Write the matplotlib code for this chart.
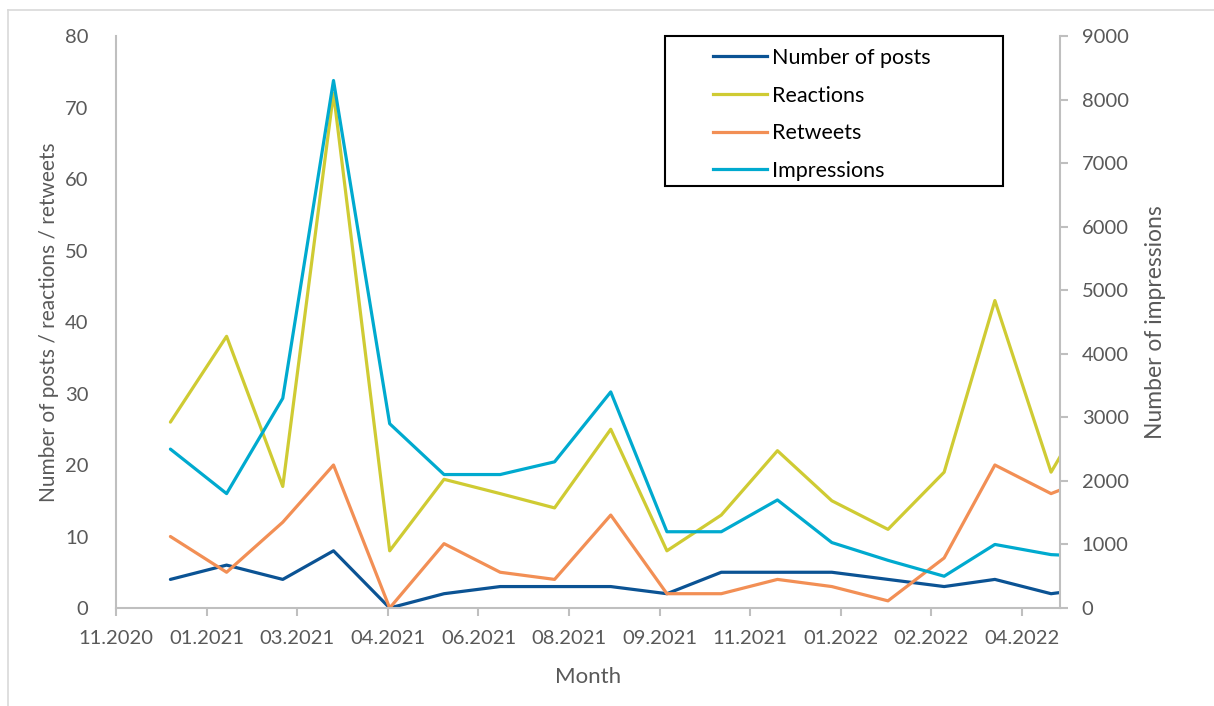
import datetime as dt
import matplotlib.pyplot as plt
from matplotlib.lines import Line2D
from matplotlib.patches import Rectangle

plt.rcParams['font.family'] = ['Lato', 'DejaVu Sans']

# monthly data, Dec 2020 .. May 2022
months = ['2020-12', '2021-01', '2021-02', '2021-03', '2021-04', '2021-05',
          '2021-06', '2021-07', '2021-08', '2021-09', '2021-10', '2021-11',
          '2021-12', '2022-01', '2022-02', '2022-03', '2022-04', '2022-05']
posts = [4, 6, 4, 8, 0, 2, 3, 3, 3, 2, 5, 5, 5, 4, 3, 4, 2, 3]
reactions = [26, 38, 17, 72, 8, 18, 16, 14, 25, 8, 13, 22, 15, 11, 19, 43, 19, 32]
retweets = [10, 5, 12, 20, 0, 9, 5, 4, 13, 2, 2, 4, 3, 1, 7, 20, 16, 19]
impressions = [2500, 1800, 3300, 8300, 2900, 2100, 2100, 2300, 3400, 1200, 1200,
               1700, 1030, 750, 500, 1000, 840, 800]

tick_labels = ['11.2020', '01.2021', '03.2021', '04.2021', '06.2021', '08.2021',
               '09.2021', '11.2021', '01.2022', '02.2022', '04.2022']

start = dt.date(2020, 11, 1)
x = [(dt.date(int(m[:4]), int(m[5:]), 1) - start).days for m in months]

c_posts = '#0B5394'
c_react = '#CFCB33'
c_rt = '#F28F55'
c_imp = '#00AACF'
grey = '#595959'
axis_grey = '#BFBFBF'

fig = plt.figure(figsize=(12.14, 7.06), dpi=100)
ax = fig.add_axes([0.0956, 0.1388, 0.7772, 0.8102])
ax2 = ax.twinx()

lw = 2.3
kw = dict(lw=lw, solid_joinstyle='round', solid_capstyle='round')
ax.plot(x, posts, color=c_posts, **kw)
ax.plot(x, reactions, color=c_react, **kw)
ax.plot(x, retweets, color=c_rt, **kw)
ax2.plot(x, impressions, color=c_imp, **kw)

ax.set_xlim(0, 520.7)
ax.set_ylim(0, 80)
ax2.set_ylim(0, 9000)
ax.set_yticks(range(0, 81, 10))
ax2.set_yticks(range(0, 9001, 1000))
ax.set_xticks([i * 50 for i in range(len(tick_labels))])
ax.set_xticklabels(tick_labels)

for a in (ax, ax2):
    a.spines['top'].set_visible(False)
    for s in ('left', 'right', 'bottom'):
        a.spines[s].set_color(axis_grey)
        a.spines[s].set_linewidth(1.5)
    a.tick_params(labelsize=14.5, colors=grey)

ax.tick_params(axis='y', length=0, pad=20)
ax.tick_params(axis='x', length=6, width=1.5, color=axis_grey, pad=10)
ax2.tick_params(axis='y', length=6, width=1.5, color=axis_grey, pad=10)
ax.spines['right'].set_visible(False)
ax2.spines['left'].set_visible(False)
ax2.spines['bottom'].set_visible(False)

ax.set_xlabel('Month', fontsize=16, color=grey, labelpad=14)
ax.set_ylabel('Number of posts / reactions / retweets', fontsize=15, color=grey, labelpad=4)
ax2.set_ylabel('Number of impressions', fontsize=16.5, color=grey, labelpad=12)

handles = [Line2D([], [], color=c, lw=lw) for c in (c_posts, c_react, c_rt, c_imp)]
leg = ax.legend(handles, ['Number of posts', 'Reactions', 'Retweets', 'Impressions'],
                loc='upper left', bbox_to_anchor=(0.6327, 0.979), fontsize=15.5,
                frameon=False, handlelength=2.5, handletextpad=0.25,
                labelspacing=0.82, borderpad=0, borderaxespad=0)

# legend box
ax.add_patch(Rectangle((0.5818, 0.7378), 0.3582, 0.2622, transform=ax.transAxes,
                       fill=False, edgecolor='black', lw=1.5, clip_on=False, zorder=5))

# outer chart frame (left and top edges visible)
fig.add_artist(Line2D([0.0066, 0.0066], [0, 0.986], transform=fig.transFigure,
                      color='#D9D9D9', lw=1.2))
fig.add_artist(Line2D([0.0066, 1.0], [0.986, 0.986], transform=fig.transFigure,
                      color='#D9D9D9', lw=1.2))

fig.savefig('out.png', dpi=100)
